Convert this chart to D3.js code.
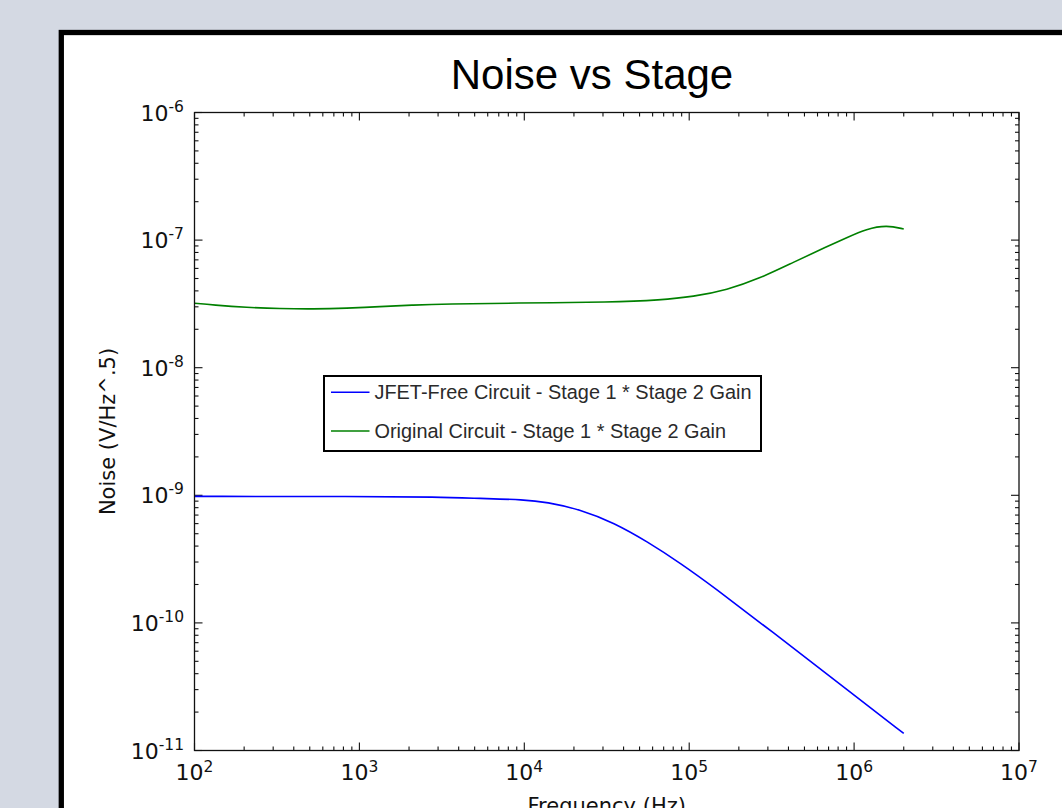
<!DOCTYPE html>
<html>
<head>
<meta charset="utf-8">
<script src="https://cdn.jsdelivr.net/npm/d3@7"></script>
<style>
  html, body { margin: 0; padding: 0; background: #d4d9e3; }
  svg { display: block; }
</style>
</head>
<body>
<svg id="chart" width="1062" height="808"></svg>
<script>
// ---- Data ----
const chartTitle = "Noise vs Stage";
const xAxisLabel = "Frequency (Hz)";
const yAxisLabel = "Noise (V/Hz^.5)";
const seriesNames = ["JFET-Free Circuit - Stage 1 * Stage 2 Gain", "Original Circuit - Stage 1 * Stage 2 Gain"];
const seriesColors = ["#0000ff", "#008000"];

const jfetFreq  = [100, 1000, 3000, 5380, 1e4, 1.36e4, 2.19e4, 3.5e4, 5.58e4, 8.9e4, 1.42e5, 3e5, 1e6, 2e6];
const jfetNoise = [9.8e-10, 9.8e-10, 9.7e-10, 9.45e-10, 9.25e-10, 8.85e-10, 7.75e-10, 6.08e-10, 4.33e-10, 2.92e-10, 1.89e-10, 9.05e-11, 2.72e-11, 1.36e-11];

const origFreq  = [100, 130, 207, 330, 525, 838, 1330, 2120, 3380, 8570, 3.47e4, 6.65e4, 1.06e5, 1.69e5, 2.69e5, 4.28e5, 6.82e5, 9.02e5, 1.19e6, 1.58e6, 2e6];
const origNoise = [3.2e-8, 3.1e-8, 2.97e-8, 2.9e-8, 2.88e-8, 2.92e-8, 3.01e-8, 3.1e-8, 3.16e-8, 3.21e-8, 3.26e-8, 3.39e-8, 3.6e-8, 4.06e-8, 5.02e-8, 6.7e-8, 8.87e-8, 1.045e-7, 1.225e-7, 1.31e-7, 1.222e-7];

const xTickExponents = [2, 3, 4, 5, 6, 7];
const yTickExponents = [-11, -10, -9, -8, -7, -6];

// ---- Drawing ----
const svg = d3.select("#chart");

// panel with thick black border (extends past the window)
svg.append("rect")
  .attr("x", 61.3).attr("y", 32.5)
  .attr("width", 1100).attr("height", 900)
  .attr("fill", "#ffffff")
  .attr("stroke", "#000").attr("stroke-width", 5.3);

const L = 194.5, R = 1019, T = 112.5, B = 750.5;
const x = d3.scaleLog().domain([1e2, 1e7]).range([L, R]);
const y = d3.scaleLog().domain([1e-11, 1e-6]).range([B, T]);

const tickFont = "'DejaVu Sans', sans-serif";

// minor/major ticks
const xMinor = [], yMinor = [];
for (let e = 2; e < 7; e++) for (let m = 2; m <= 9; m++) xMinor.push(m * Math.pow(10, e));
for (let e = -11; e < -6; e++) for (let m = 2; m <= 9; m++) yMinor.push(m * Math.pow(10, e));
const xMajor = xTickExponents.map(e => Math.pow(10, e));
const yMajor = yTickExponents.map(e => Math.pow(10, e));

const ticks = svg.append("g").attr("stroke", "#111").attr("stroke-width", 1.1);
function xt(vals, len) {
  vals.forEach(v => {
    const px = x(v);
    ticks.append("line").attr("x1", px).attr("x2", px).attr("y1", B).attr("y2", B - len);
    ticks.append("line").attr("x1", px).attr("x2", px).attr("y1", T).attr("y2", T + len);
  });
}
function yt(vals, len) {
  vals.forEach(v => {
    const py = y(v);
    ticks.append("line").attr("y1", py).attr("y2", py).attr("x1", L).attr("x2", L + len);
    ticks.append("line").attr("y1", py).attr("y2", py).attr("x1", R).attr("x2", R - len);
  });
}
xt(xMinor, 4); xt(xMajor, 8);
yt(yMinor, 4); yt(yMajor, 8);

// lines
const line = d3.line().x(d => x(d[0])).y(d => y(d[1])).curve(d3.curveBasis);
const series = [
  d3.zip(jfetFreq, jfetNoise),
  d3.zip(origFreq, origNoise)
];
series.forEach((s, i) => {
  svg.append("path").datum(s)
    .attr("d", line)
    .attr("fill", "none")
    .attr("stroke", seriesColors[i])
    .attr("stroke-width", 1.6);
});

// spines
svg.append("rect")
  .attr("x", L).attr("y", T).attr("width", R - L).attr("height", B - T)
  .attr("fill", "none").attr("stroke", "#111").attr("stroke-width", 1.3);

// x tick labels
xTickExponents.forEach(e => {
  const t = svg.append("text")
    .attr("x", x(Math.pow(10, e))).attr("y", B + 29)
    .attr("text-anchor", "middle")
    .attr("font-family", tickFont).attr("font-size", 22).attr("fill", "#111");
  t.append("tspan").text("10");
  t.append("tspan").attr("dy", -8).attr("font-size", 15.5).text(String(e));
});
// y tick labels
yTickExponents.forEach(e => {
  const t = svg.append("text")
    .attr("x", 184).attr("y", y(Math.pow(10, e)) + 8)
    .attr("text-anchor", "end")
    .attr("font-family", tickFont).attr("font-size", 22).attr("fill", "#111");
  t.append("tspan").text("10");
  t.append("tspan").attr("dy", -9).attr("font-size", 15.5).text(String(e));
});

// axis labels
svg.append("text")
  .attr("x", (L + R) / 2).attr("y", 813)
  .attr("text-anchor", "middle")
  .attr("font-family", tickFont).attr("font-size", 21).attr("fill", "#111")
  .text(xAxisLabel);
svg.append("text")
  .attr("transform", `translate(115,${(T + B) / 2}) rotate(-90)`)
  .attr("text-anchor", "middle")
  .attr("font-family", tickFont).attr("font-size", 21).attr("fill", "#111")
  .text(yAxisLabel);

// title
svg.append("text")
  .attr("x", 592).attr("y", 89)
  .attr("text-anchor", "middle")
  .attr("font-family", "'Liberation Sans', Arial, sans-serif")
  .attr("font-size", 42).attr("fill", "#000")
  .text(chartTitle);

// legend
const lg = svg.append("g");
lg.append("rect")
  .attr("x", 324).attr("y", 376).attr("width", 437).attr("height", 75)
  .attr("fill", "#fff").attr("stroke", "#000").attr("stroke-width", 2);
const legendY = [392.3, 431];
const legendBase = [399, 438];
seriesNames.forEach((name, i) => {
  lg.append("line")
    .attr("x1", 331).attr("x2", 369.5)
    .attr("y1", legendY[i]).attr("y2", legendY[i])
    .attr("stroke", seriesColors[i]).attr("stroke-width", 1.6);
  lg.append("text")
    .attr("x", 374.5).attr("y", legendBase[i])
    .attr("font-family", "'Liberation Sans', Arial, sans-serif")
    .attr("font-size", 19.9).attr("fill", "#2a2a2a")
    .text(name);
});
</script>
</body>
</html>
